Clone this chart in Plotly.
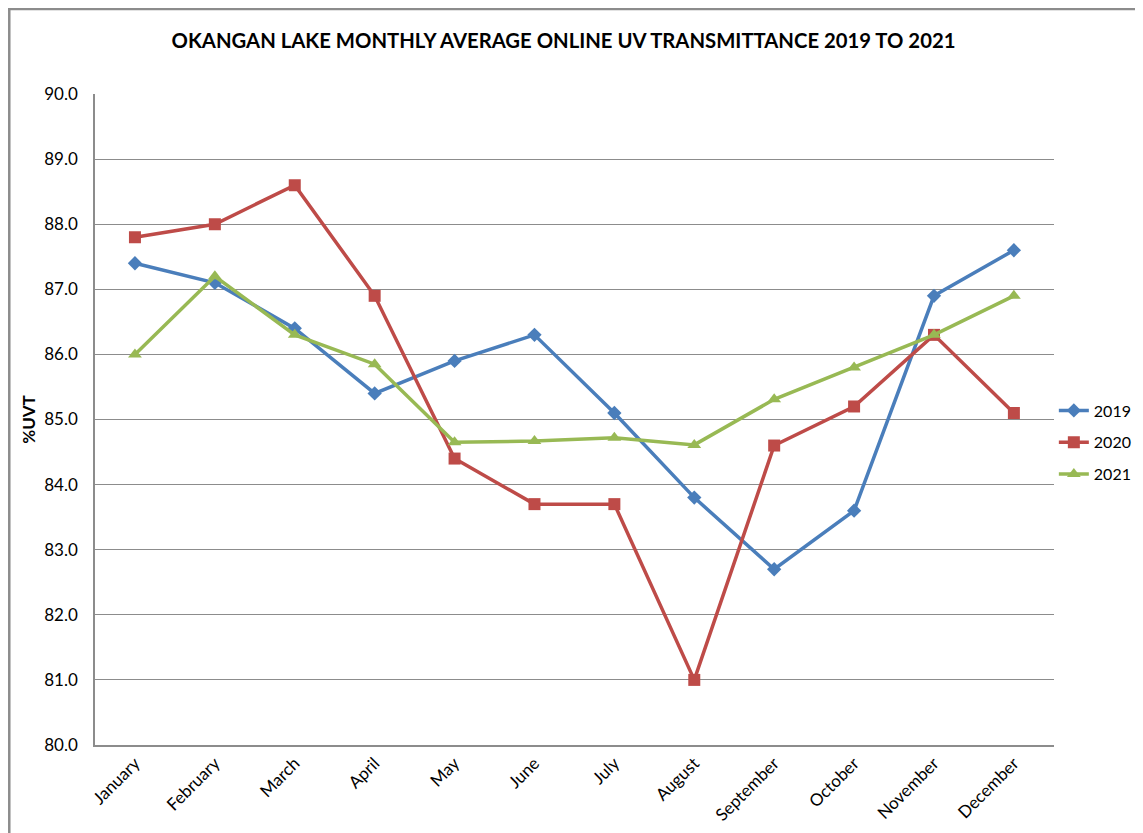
import plotly.graph_objects as go

months = ["January", "February", "March", "April", "May", "June", "July",
          "August", "September", "October", "November", "December"]
uvt_2019 = [87.4, 87.1, 86.4, 85.4, 85.9, 86.3, 85.1, 83.8, 82.7, 83.6, 86.9, 87.6]
uvt_2020 = [87.8, 88.0, 88.6, 86.9, 84.4, 83.7, 83.7, 81.0, 84.6, 85.2, 86.3, 85.1]
uvt_2021 = [86.0, 87.2, 86.3, 85.85, 84.65, 84.67, 84.72, 84.61, 85.31, 85.8, 86.3, 86.9]
y_ticks = [80, 81, 82, 83, 84, 85, 86, 87, 88, 89, 90]

FONT = "Lato, Open Sans, sans-serif"

series = [
    ("2019", uvt_2019, "#4A7EBB", "diamond", 11),
    ("2020", uvt_2020, "#BE4B48", "square", 12),
    ("2021", uvt_2021, "#98B954", "triangle-up", 12),
]

fig = go.Figure()
for i, (name, vals, color, sym, size) in enumerate(series):
    fig.add_trace(go.Scatter(
        x=months, y=vals, name=name, mode="lines+markers",
        line=dict(color=color, width=3.5),
        marker=dict(symbol=sym, size=size, color=color),
        legendgroup=f"g{i}",
    ))

# page body adds ~8px offset, margins compensate for it
fig.update_layout(
    width=1143, height=833,
    margin=dict(l=87, r=94, t=86, b=96),
    paper_bgcolor="white", plot_bgcolor="white",
    font=dict(family=FONT, size=16, color="black"),
    title=dict(text="<b>OKANGAN LAKE MONTHLY AVERAGE ONLINE UV TRANSMITTANCE 2019 TO 2021</b>",
               x=0.486, xanchor="center", y=0.960, yanchor="middle",
               font=dict(family=FONT, size=20.3, color="black")),
    xaxis=dict(tickangle=-45, showgrid=False, showline=True, linecolor="#8c8c8c",
               linewidth=1.5, ticks="", tickfont=dict(size=17), range=[-0.5, 11.5],
               automargin=False),
    yaxis=dict(range=[80, 90], tickvals=y_ticks, tickformat=".1f",
               showgrid=True, gridcolor="#8c8c8c", gridwidth=1.3,
               showline=True, linecolor="#8c8c8c", linewidth=1.5,
               ticks="", ticklen=0, tickfont=dict(size=17), ticklabelstandoff=12,
               title=dict(text="<b>%UVT</b>", font=dict(size=17), standoff=4),
               zeroline=False, automargin=False),
    legend=dict(xref="container", yref="container", x=0.915, xanchor="left",
                y=0.5372, yanchor="top",
                font=dict(size=16), tracegroupgap=8, traceorder="grouped",
                bgcolor="rgba(0,0,0,0)"),
    showlegend=True,
)

fig.add_shape(type="rect", xref="paper", yref="paper",
              x0=-0.0894, x1=1.2, y0=-0.3, y1=1.1306,
              line=dict(color="#8c8c8c", width=2.5), layer="below")

fig.write_html("out.html")
